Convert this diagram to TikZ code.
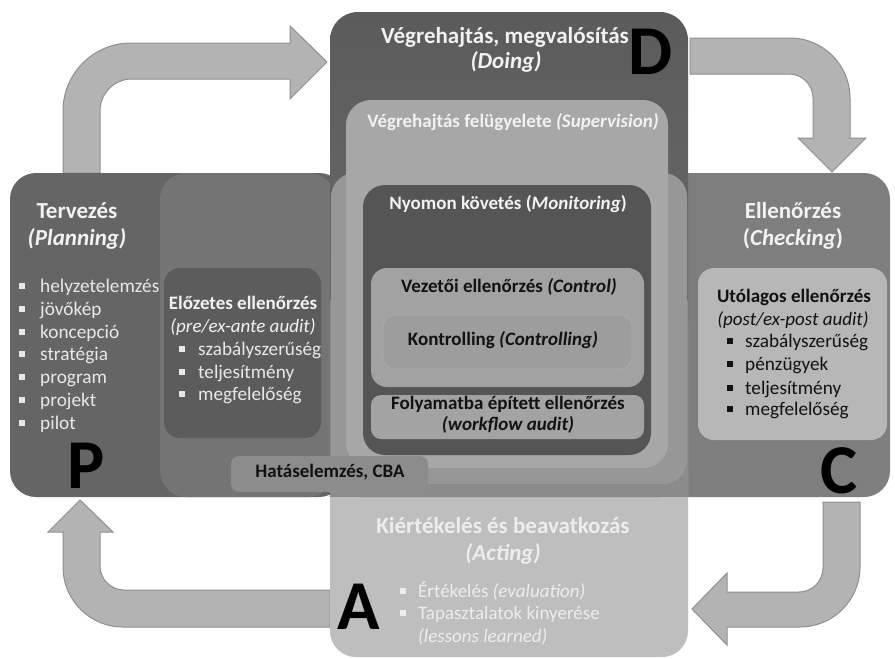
\documentclass[tikz,border=0pt]{standalone}
\usepackage{fontspec}
\setmainfont{Carlito}

\definecolor{arrowfill}{HTML}{B3B3B3}
\definecolor{arrowedge}{HTML}{8F8F8F}
\definecolor{planfill}{HTML}{656565}
\definecolor{checkfill}{HTML}{7E7E7E}
\definecolor{exantefill}{HTML}{747474}
\definecolor{actfill}{HTML}{BEBEBE}
\definecolor{dotop}{HTML}{5B5B5B}
\definecolor{dobottom}{HTML}{727272}
\definecolor{midfill}{HTML}{8B8B8B}
\definecolor{overfill}{HTML}{979797}
\definecolor{supfill}{HTML}{A7A7A7}
\definecolor{monfill}{HTML}{555555}
\definecolor{ctrlfill}{HTML}{A2A2A2}
\definecolor{ctrlingfill}{HTML}{9D9D9D}
\definecolor{ctrlingedge}{HTML}{ABABAB}
\definecolor{wffill}{HTML}{A3A3A3}
\definecolor{preinner}{HTML}{5C5C5C}
\definecolor{cbafill}{HTML}{8C8C8C}
\definecolor{postinner}{HTML}{B7B7B7}
\definecolor{softwhite}{HTML}{F2F2F2}
\definecolor{listwhite}{HTML}{E8E8E8}
\definecolor{actwhite}{HTML}{EDEDED}
\definecolor{ink}{HTML}{121212}

% square bullet set in a box of fixed width
\newcommand{\sqbul}[1]{\makebox[#1][l]{\raisebox{0.2em}{\rule{0.3em}{0.3em}}}}

\begin{document}
\begin{tikzpicture}[x=1pt,y=-1pt,
  rbox/.style={rectangle, inner sep=0pt, outer sep=0pt, draw=none},
  lbl/.style={inner sep=0pt, text height=0.68em, text depth=0.18em},
  ttl/.style={lbl, font=\fontsize{23}{27}\selectfont\bfseries, text=softwhite},
  sub/.style={lbl, font=\fontsize{19}{23}\selectfont\bfseries},
  subit/.style={lbl, font=\fontsize{19}{23}\selectfont\itshape},
  itemP/.style={lbl, anchor=west, font=\fontsize{19.3}{23}\selectfont, text=listwhite},
  itemL/.style={lbl, anchor=west, font=\fontsize{19.2}{23}\selectfont},
  itemA/.style={lbl, anchor=west, font=\fontsize{19}{23}\selectfont, text=actwhite},
  big/.style={inner sep=0pt, font=\fontsize{70}{70}\selectfont\bfseries, text=black},
  blockarrow/.style={fill=arrowfill, draw=arrowedge, line width=1pt, line join=miter},
]
\useasboundingbox (0,0) rectangle (895,659);
\fill[white] (0,0) rectangle (895,659);

% ---- cycle arrows ----
% P -> D
\path[blockarrow] (63,173) -- (63,111) .. controls (63,73.5) and (93.5,43) .. (131,43)
  -- (290,43) -- (290,26) -- (327,62) -- (290,99) -- (290,79) -- (132,79)
  .. controls (114.3,79) and (100,93.3) .. (100,111) -- (100,173) -- cycle;
% D -> C
\path[blockarrow] (690,38) -- (790,38) .. controls (823.1,38) and (850,64.9) .. (850,98)
  -- (850,138) -- (866,138) -- (832,172) -- (798,138) -- (813,138) -- (813,98)
  .. controls (813,84.8) and (802.2,74) .. (789,74) -- (690,74) -- cycle;
% C -> A
\path[blockarrow] (823,502) -- (860,502) -- (860,567) .. controls (860,600.1) and (833.1,627) .. (800,627)
  -- (727,627) -- (727,645) -- (692,609) -- (727,573) -- (727,592) -- (799,592)
  .. controls (812.2,592) and (823,581.2) .. (823,568) -- cycle;
% A -> P
\path[blockarrow] (330,627) -- (123,627) .. controls (89.9,627) and (63,600.1) .. (63,567)
  -- (63,532) -- (48,532) -- (80,500) -- (113,532) -- (100,532) -- (100,566)
  .. controls (100,579.2) and (110.8,590) .. (124,590) -- (330,590) -- cycle;

% ---- main phase areas ----
\node[rbox, fill=planfill, rounded corners=26pt, minimum width=335pt, minimum height=324pt] (plan) at (177.5,335) {};
\node[rbox, fill=checkfill, rounded corners=26pt, minimum width=240pt, minimum height=324pt] (check) at (770,335) {};
\node[rbox, fill=exantefill, rounded corners=26pt, minimum width=175pt, minimum height=324pt] (exante) at (247.5,335) {};
\node[rbox, fill=actfill, rounded corners=26pt, minimum width=358pt, minimum height=357pt] (act) at (509,478.5) {};
\node[rbox, top color=dotop, bottom color=dobottom, rounded corners=28pt, minimum width=358pt, minimum height=485pt] (do) at (509,254.5) {};
\node[rbox, fill=midfill, minimum width=358pt, minimum height=197pt] (overlap) at (509,398.5) {};
\node[rbox, fill=overfill, rounded corners=24pt, minimum width=356pt, minimum height=311pt] (execzone) at (509,328.5) {};

% ---- nested execution boxes ----
\node[rbox, fill=supfill, rounded corners=25pt, minimum width=322pt, minimum height=368pt] (sup) at (507,284) {};
\node[rbox, fill=monfill, rounded corners=22pt, minimum width=288pt, minimum height=270pt] (mon) at (507,320) {};
\node[rbox, fill=ctrlfill, rounded corners=16pt, minimum width=273pt, minimum height=119pt] (ctrl) at (507.5,327.5) {};
\node[rbox, fill=ctrlingfill, draw=ctrlingedge, line width=0.8pt, rounded corners=12pt, minimum width=249pt, minimum height=54pt] (ctrling) at (507.5,342) {};
\node[rbox, fill=wffill, rounded corners=10pt, minimum width=273pt, minimum height=44pt] (wf) at (507.5,417) {};

% ---- audit boxes ----
\node[rbox, fill=preinner, rounded corners=16pt, minimum width=157pt, minimum height=170pt] (pre) at (242.5,353) {};
\node[rbox, fill=postinner, rounded corners=16pt, minimum width=189pt, minimum height=172pt] (post) at (792.5,354) {};
\node[rbox, fill=cbafill, rounded corners=8pt, minimum width=197pt, minimum height=36pt] (cba) at (329.5,474) {};

% ---- Planning ----
\node[ttl] (planT) at (77,216) {Tervezés};
\node[ttl] (planS) at (77,243) {\textit{(Planning)}};
\node[itemP] (p1) at (19.1,290) {\sqbul{20.9pt}helyzetelemzés};
\node[itemP] (p2) at (19.1,313) {\sqbul{20.9pt}jövőkép};
\node[itemP] (p3) at (19.1,336) {\sqbul{20.9pt}koncepció};
\node[itemP] (p4) at (19.1,358) {\sqbul{20.9pt}stratégia};
\node[itemP] (p5) at (19.1,381) {\sqbul{20.9pt}program};
\node[itemP] (p6) at (19.1,404) {\sqbul{20.9pt}projekt};
\node[itemP] (p7) at (19.1,427) {\sqbul{20.9pt}pilot};
\node[big] (letterP) at (86,466) {P};

% ---- ex-ante audit ----
\node[sub, text=softwhite] (preT) at (243,307) {Előzetes ellenőrzés};
\node[subit, text=softwhite] (preS) at (243,330) {(pre/ex-ante audit)};
\node[itemL, text=listwhite] (pr1) at (179.2,353) {\sqbul{18.8pt}szabályszerűség};
\node[itemL, text=listwhite] (pr2) at (179.2,376) {\sqbul{18.8pt}teljesítmény};
\node[itemL, text=listwhite] (pr3) at (179.2,398) {\sqbul{18.8pt}megfelelőség};
\node[sub, text=ink] (cbaT) at (330,475) {Hatáselemzés, CBA};

% ---- Doing ----
\node[ttl] (doT) at (505,41) {Végrehajtás, megvalósítás};
\node[ttl] (doS) at (506,66) {\textit{(Doing)}};
\node[big] (letterD) at (651,52) {D};
\node[sub, text=softwhite] (supT) at (513,125) {Végrehajtás felügyelete \textit{(Supervision)}};
\node[sub, text=softwhite] (monT) at (508,207) {Nyomon követés (\textit{Monitoring})};
\node[sub, text=ink] (ctrlT) at (509,290) {Vezetői ellenőrzés \textit{(Control)}};
\node[sub, text=ink] (ctrlingT) at (503,343) {Kontrolling \textit{(Controlling)}};
\node[sub, text=ink] (wfT) at (508,407) {Folyamatba épített ellenőrzés};
\node[sub, text=ink] (wfS) at (508,428) {\textit{(workflow audit)}};

% ---- Checking ----
\node[ttl] (checkT) at (793,216) {Ellenőrzés};
\node[ttl] (checkS) at (793,243) {(\textit{Checking})};
\node[sub, text=ink] (postT) at (794,300) {Utólagos ellenőrzés};
\node[subit, text=ink] (postS) at (793,323) {(post/ex-post audit)};
\node[itemL, text=ink] (po1) at (727.2,345) {\sqbul{17.8pt}szabályszerűség};
\node[itemL, text=ink] (po2) at (727.2,368) {\sqbul{17.8pt}pénzügyek};
\node[itemL, text=ink] (po3) at (727.2,392) {\sqbul{17.8pt}teljesítmény};
\node[itemL, text=ink] (po4) at (727.2,413) {\sqbul{17.8pt}megfelelőség};
\node[big] (letterC) at (839,471) {C};

% ---- Acting ----
\node[ttl, text=actwhite] (actT) at (503,531) {Kiértékelés és beavatkozás};
\node[ttl, text=actwhite] (actS) at (503,558) {\textit{(Acting)}};
\node[itemA] (a1) at (400.2,595) {\sqbul{17.8pt}Értékelés \textit{(evaluation)}};
\node[itemA] (a2) at (400.2,617) {\sqbul{17.8pt}Tapasztalatok kinyerése};
\node[itemA] (a3) at (418,640) {\textit{(lessons learned)}};
\node[big] (letterA) at (359,607) {A};
\end{tikzpicture}
\end{document}
